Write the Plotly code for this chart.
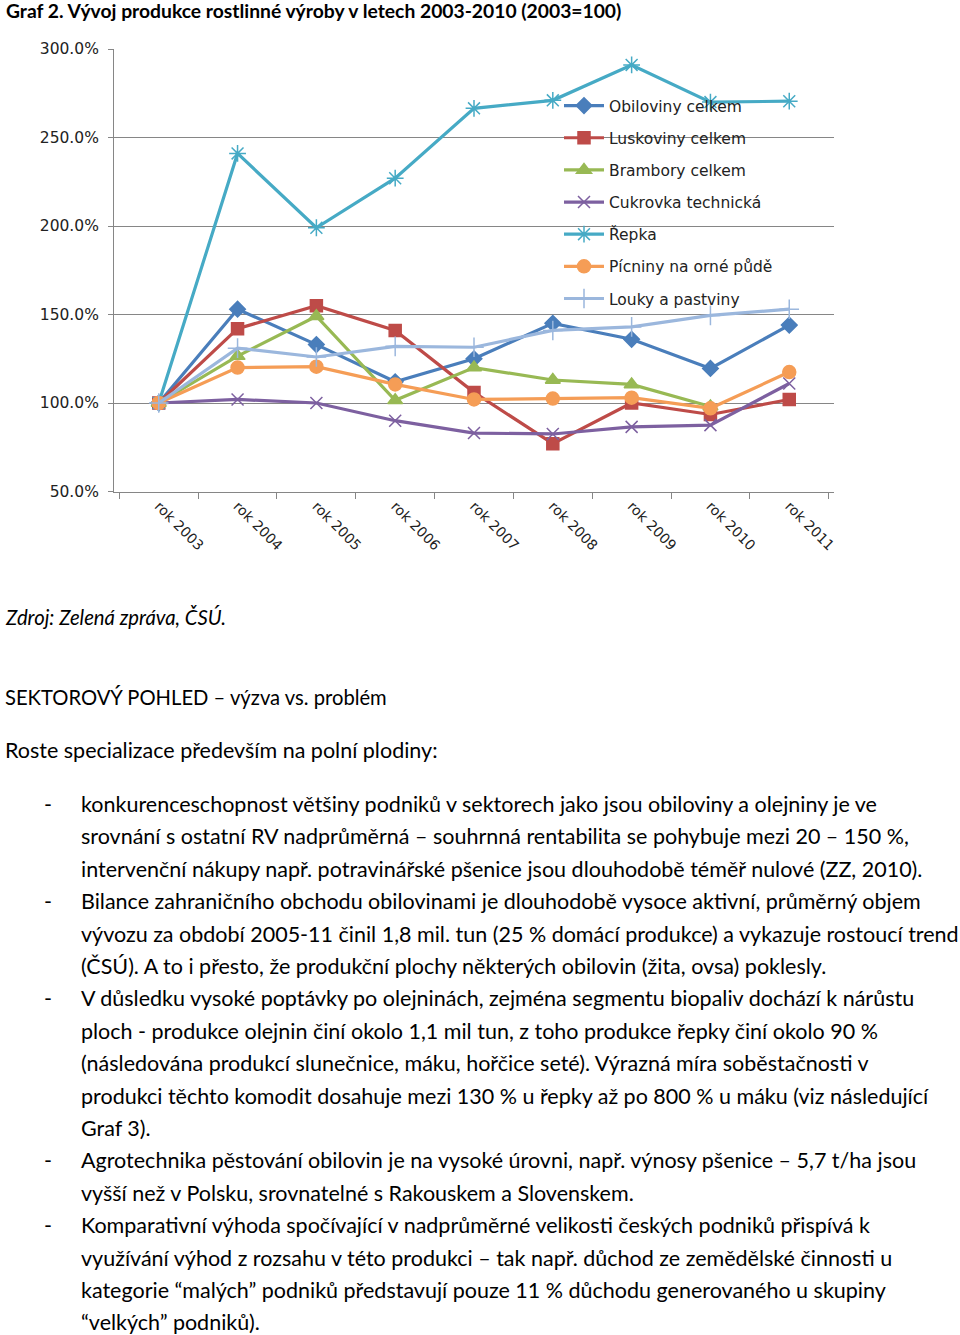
import plotly.graph_objects as go

W, H = 960, 1335

years = ['rok 2003', 'rok 2004', 'rok 2005', 'rok 2006', 'rok 2007',
         'rok 2008', 'rok 2009', 'rok 2010', 'rok 2011']

obiloviny = [100, 153, 133, 112, 125, 145, 136, 119.5, 144]
luskoviny = [100, 142, 155, 141, 106, 77, 100, 93.5, 102]
brambory = [100, 126.5, 149, 101.5, 120, 113, 110.5, 98]
cukrovka = [100, 102, 100, 90, 83, 82.5, 86.5, 87.5, 111]
repka = [100, 241, 199, 227, 266.5, 271, 291, 270, 270.5]
picniny = [100, 120, 120.5, 110.5, 102, 102.5, 103, 97, 117.5]
louky = [100, 131, 126, 132, 131.5, 141, 143, 149.5, 153]

y_ticks = [50, 100, 150, 200, 250, 300]
y_ticktext = ['50.0%', '100.0%', '150.0%', '200.0%', '250.0%', '300.0%']

series = [
    ('Obiloviny celkem', obiloviny, '#4A7EBB', 'diamond', 12),
    ('Luskoviny celkem', luskoviny, '#BE4B48', 'square', 12),
    ('Brambory celkem', brambory, '#98B954', 'triangle-up', 13),
    ('Cukrovka technická', cukrovka, '#7D60A0', 'x-thin-open', 12),
    ('Řepka', repka, '#46AAC5', 'asterisk-open', 14),
    ('Pícniny na orné půdě', picniny, '#F59D56', 'circle', 13),
    ('Louky a pastviny', louky, '#9BB7DD', 'cross-thin-open', 14),
]

title_text = 'Graf 2. Vývoj produkce rostlinné výroby v letech 2003-2010 (2003=100)'
source_text = 'Zdroj: Zelená zpráva, ČSÚ.'
heading_text = 'SEKTOROVÝ POHLED – výzva vs. problém'
intro_text = 'Roste specializace především na polní plodiny:'

bullets = [
    ['konkurenceschopnost většiny podniků v sektorech jako jsou obiloviny a olejniny je ve',
     'srovnání s ostatní RV nadprůměrná – souhrnná rentabilita se pohybuje mezi 20 – 150 %,',
     'intervenční nákupy např. potravinářské pšenice jsou dlouhodobě téměř nulové (ZZ, 2010).'],
    ['Bilance zahraničního obchodu obilovinami je dlouhodobě vysoce aktivní, průměrný objem',
     'vývozu za období 2005-11 činil 1,8 mil. tun (25 % domácí produkce) a vykazuje rostoucí trend',
     '(ČSÚ). A to i přesto, že produkční plochy některých obilovin (žita, ovsa) poklesly.'],
    ['V důsledku vysoké poptávky po olejninách, zejména segmentu biopaliv dochází k nárůstu',
     'ploch - produkce olejnin činí okolo 1,1 mil tun, z toho produkce řepky činí okolo 90 %',
     '(následována produkcí slunečnice, máku, hořčice seté). Výrazná míra soběstačnosti v',
     'produkci těchto komodit dosahuje mezi 130 % u řepky až po 800 % u máku (viz následující',
     'Graf 3).'],
    ['Agrotechnika pěstování obilovin je na vysoké úrovni, např. výnosy pšenice – 5,7 t/ha jsou',
     'vyšší než v Polsku, srovnatelné s Rakouskem a Slovenskem.'],
    ['Komparativní výhoda spočívající v nadprůměrné velikosti českých podniků přispívá k',
     'využívání výhod z rozsahu v této produkci – tak např. důchod ze zemědělské činnosti u',
     'kategorie “malých” podniků představují pouze 11 % důchodu generovaného u skupiny',
     '“velkých” podniků).'],
]

CHART_FONT = 'DejaVu Sans'
TEXT_FONT = 'Lato'
BODY_SIZE = 21.5


def px_x(x):
    return x / W


def px_y(y):
    return 1 - y / H


def note(text, x, y, size, anchor='left'):
    return dict(text=text, x=px_x(x), y=px_y(y), xref='paper', yref='paper',
                xanchor=anchor, yanchor='middle', showarrow=False,
                font=dict(family=TEXT_FONT, size=size, color='black'))


fig = go.Figure()
for name, vals, color, symbol, size in series:
    fig.add_trace(go.Scatter(
        x=years[:len(vals)],
        y=vals,
        name=name,
        mode='lines+markers',
        line=dict(color=color, width=3.2),
        marker=dict(symbol=symbol, size=size, color=color,
                    line=dict(color=color, width=1.5)),
        legendgroup=name,
    ))

annotations = [
    note('<b>' + title_text + '</b>', 4, 10, 19.3),
    note('<i>' + source_text + '</i>', 3, 617, 20.3),
    note(heading_text, 3, 697, 20.2),
    note(intro_text, 3, 750, BODY_SIZE),
]

line_y = 804
for para in bullets:
    annotations.append(note('-', 42, line_y, BODY_SIZE))
    for ln in para:
        annotations.append(note(ln, 79, line_y, BODY_SIZE))
        line_y += 32.4

fig.update_layout(
    width=W, height=H,
    # the text lines touch the page edges; don't let them push the margins
    margin=dict(l=0, r=0, t=0, b=0, autoexpand=False),
    paper_bgcolor='white',
    plot_bgcolor='white',
    showlegend=True,
    legend=dict(x=px_x(559), y=px_y(89), xanchor='left', yanchor='top',
                bgcolor='rgba(0,0,0,0)', font=dict(family=CHART_FONT, size=15.5, color='#222'),
                tracegroupgap=9, itemwidth=40),
    annotations=annotations,
    xaxis=dict(
        domain=[px_x(114), px_x(834)],
        type='category',
        tickson='boundaries',
        ticks='outside', ticklen=6, tickcolor='#868686',
        showline=True, linecolor='#868686', linewidth=1,
        showgrid=False,
        tickangle=45,
        tickfont=dict(family=CHART_FONT, size=14, color='#222'),
        anchor='y',
    ),
    yaxis=dict(
        domain=[px_y(491.5), px_y(49)],
        range=[50, 300],
        tickvals=y_ticks, ticktext=y_ticktext,
        ticks='outside', ticklen=5, tickcolor='#868686',
        ticklabelstandoff=6,
        showline=True, linecolor='#868686', linewidth=1,
        showgrid=True, gridcolor='#868686', gridwidth=1,
        zeroline=False,
        tickfont=dict(family=CHART_FONT, size=15.5, color='#222'),
        anchor='x',
    ),
)

# default body margin pushes the 960x1335 figure off the page; remove it
page_js = ("document.body.style.margin='0';document.body.style.padding='0';"
           "document.documentElement.style.overflow='hidden';")
fig.write_html('out.html', config={'displayModeBar': False}, post_script=page_js)
